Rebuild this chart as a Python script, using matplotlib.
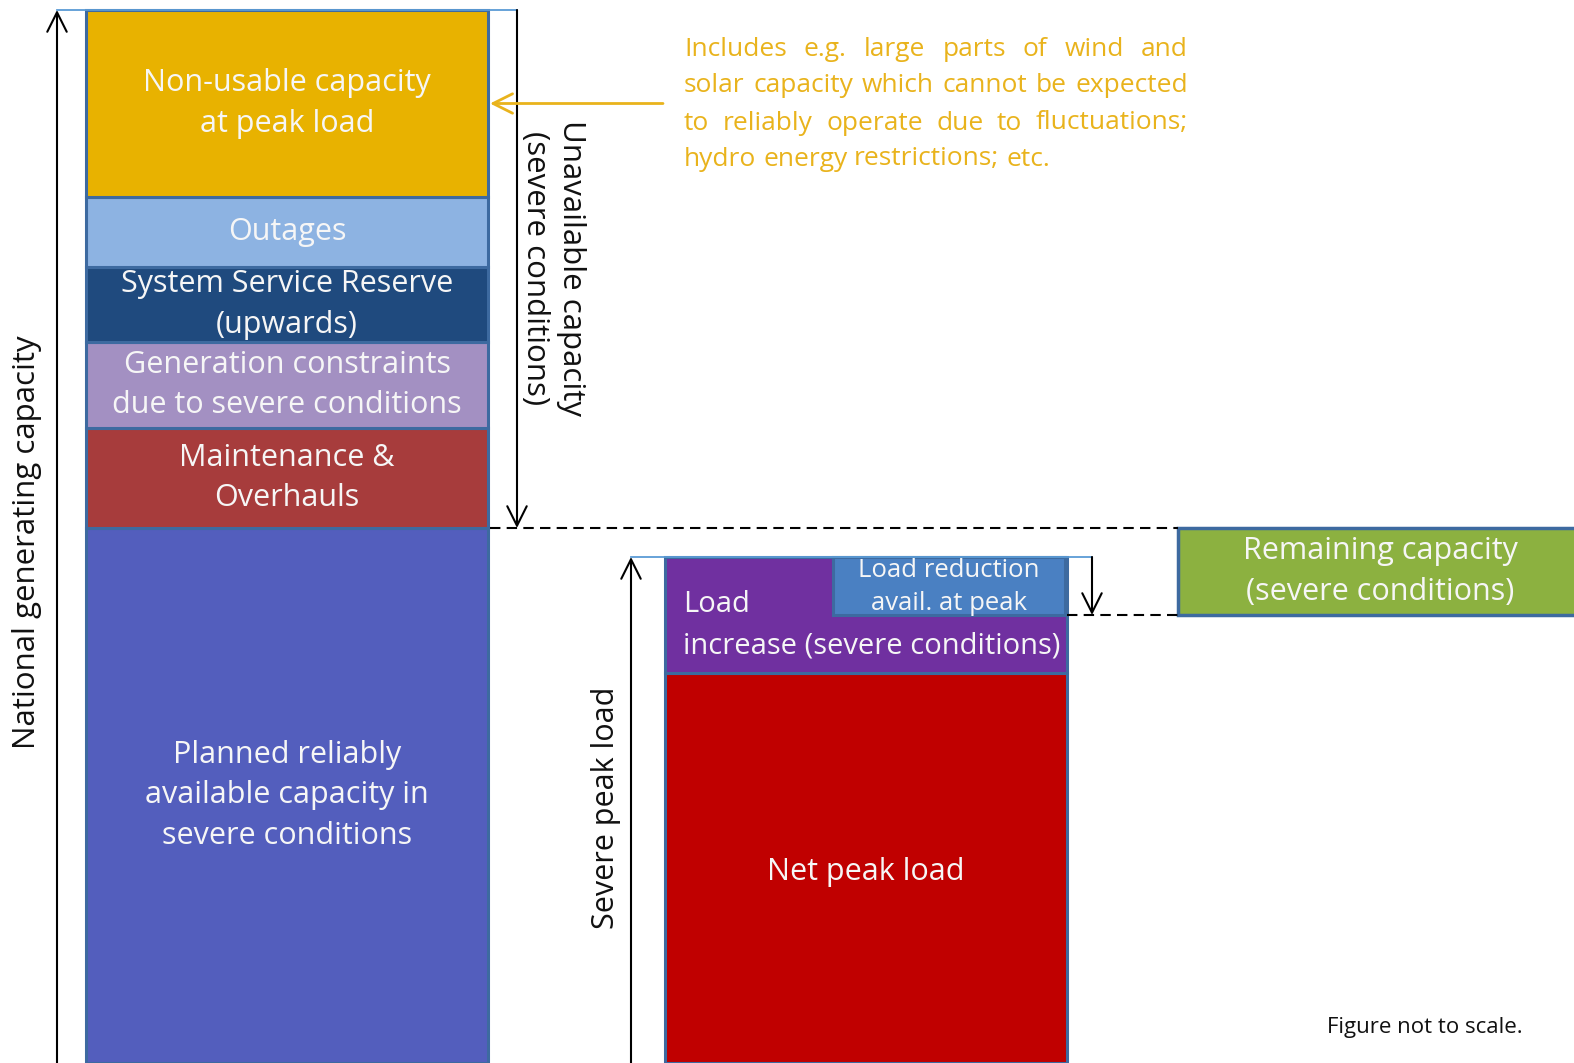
import numpy as np
import matplotlib.pyplot as plt

plt.rcParams['font.family'] = ['Open Sans', 'DejaVu Sans']

# generating capacity, stacked from the bottom (not to scale)
gen_labels = ['Planned reliably\navailable capacity in\nsevere conditions',
              'Maintenance &\nOverhauls',
              'Generation constraints\ndue to severe conditions',
              'System Service Reserve\n(upwards)',
              'Outages',
              'Non-usable capacity\nat peak load']
gen_values = [535, 100, 86, 75, 70, 187]

# load side
load_labels = ['Net peak load', 'Load\nincrease (severe conditions)']
load_values = [390, 116]
reduction_label = 'Load reduction\navail. at peak'
reduction_value = 58
remaining_label = 'Remaining capacity\n(severe conditions)'

note_lines = ['Includes e.g. large parts of wind and',
              'solar capacity which cannot be expected',
              'to reliably operate due to fluctuations;',
              'hydro energy restrictions; etc.']

gen_colors = ['#535ebd', '#a73c3c', '#a390c2', '#1f4a7e', '#8db3e2', '#e8b200']
load_colors = ['#c00000', '#7030a0']
edge = '#3d6aa0'
txt = '#f6f6f6'
yellow = '#e9b31c'

fig = plt.figure(figsize=(15.74, 10.63), dpi=100)
ax = fig.add_axes([0, 0, 1, 1])
ax.set_xlim(0, 1574)
ax.set_ylim(0, 1063)
ax.axis('off')

# left stack
bottoms = np.concatenate([[0], np.cumsum(gen_values)[:-1]])
total = sum(gen_values)
ax.bar(287, gen_values, width=402, bottom=bottoms, color=gen_colors,
       edgecolor=edge, linewidth=2.2)
for lab, b, h in zip(gen_labels, bottoms, gen_values):
    ax.text(287, b + h / 2, lab, ha='center', va='center', color=txt,
            fontsize=22, linespacing=1.45)

# right stack
lb = np.concatenate([[0], np.cumsum(load_values)[:-1]])
load_top = sum(load_values)
ax.bar(866, load_values, width=402, bottom=lb, color=load_colors,
       edgecolor=edge, linewidth=2.2)
ax.text(866, load_values[0] / 2 - 4, load_labels[0], ha='center', va='center',
        color=txt, fontsize=22)
# the two lines of the load increase label sit on either side of the inset
inc_mid = lb[1] + load_values[1] / 2
for k, part in enumerate(load_labels[1].split('\n')):
    ax.text(683, inc_mid + 10 - 41 * k, part, ha='left', va='center',
            color=txt, fontsize=21)

red_bottom = load_top - reduction_value
ax.bar(949, reduction_value, width=232, bottom=red_bottom, color='#4a80c2',
       edgecolor=edge, linewidth=2.2)
ax.text(949, red_bottom + reduction_value / 2 - 1, reduction_label,
        ha='center', va='center', color=txt, fontsize=18.5, linespacing=1.4)

# remaining capacity
remaining = gen_values[0] - red_bottom
ax.bar(1178, remaining, width=420, bottom=red_bottom, align='edge',
       color='#8cb140', edgecolor=edge, linewidth=2.5)
ax.text(1380, red_bottom + remaining / 2, remaining_label, ha='center',
        va='center', color=txt, fontsize=22, linespacing=1.45)

# guide lines
ax.plot([57, 517], [total, total], color='#5b9bd5', lw=1.3)
ax.plot([631, 1092], [load_top, load_top], color='#5b9bd5', lw=1.3)
dash = (0, (5, 3))
ax.plot([490, 1178], [gen_values[0]] * 2, color='black', lw=1.5, ls=dash)
ax.plot([1067, 1178], [red_bottom] * 2, color='black', lw=1.5, ls=dash)

# arrows
arw = dict(arrowstyle='->,head_length=0.7,head_width=0.35', color='black',
           lw=1.5, shrinkA=0, shrinkB=0, mutation_scale=20)
ax.annotate('', xy=(57, total), xytext=(57, 0), arrowprops=arw)
ax.annotate('', xy=(517, gen_values[0]), xytext=(517, total), arrowprops=arw)
ax.annotate('', xy=(631, load_top), xytext=(631, 0), arrowprops=arw)
ax.annotate('', xy=(1092, red_bottom), xytext=(1092, load_top), arrowprops=arw)
ya = dict(arw, color=yellow, lw=2)
ny = bottoms[-1] + gen_values[-1] / 2
ax.annotate('', xy=(490, ny), xytext=(663, ny), arrowprops=ya)

ax.text(27, 521, 'National generating capacity', rotation=90, ha='center',
        va='center', fontsize=22.5, color='#111111')
ax.text(553, 795, 'Unavailable capacity\n(severe conditions)', rotation=270,
        ha='center', va='center', fontsize=22.5, color='#111111',
        linespacing=1.3)
ax.text(606, 255, 'Severe peak load', rotation=90, ha='center', va='center',
        fontsize=22, color='#111111')
ax.text(1327, 36, 'Figure not to scale.', ha='left', va='center',
        fontsize=16, color='#111111')

# justified yellow note
fig.canvas.draw()
r = fig.canvas.get_renderer()
x0, x1 = 684, 1188
line_y = [1013, 977, 940, 904]
fs = 19
for i, (line, y) in enumerate(zip(note_lines, line_y)):
    words = line.split()
    ts = [ax.text(0, y, w, ha='left', va='center', color=yellow, fontsize=fs)
          for w in words]
    widths = [t.get_window_extent(r).width for t in ts]
    if i < len(note_lines) - 1:
        gap = (x1 - x0 - sum(widths)) / (len(words) - 1)
    else:
        sp = ax.text(0, 0, 'a a', fontsize=fs)
        sa = ax.text(0, 0, 'aa', fontsize=fs)
        gap = sp.get_window_extent(r).width - sa.get_window_extent(r).width
        sp.remove()
        sa.remove()
    x = x0
    for t, w in zip(ts, widths):
        t.set_x(x)
        x += w + gap

fig.savefig('out.png', dpi=100)
